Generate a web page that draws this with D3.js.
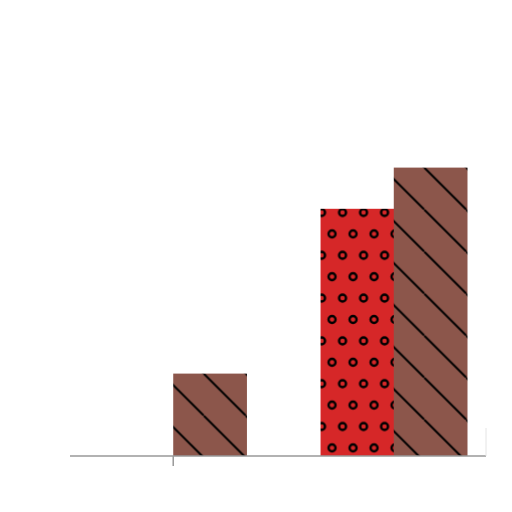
<!DOCTYPE html>
<html>
<head>
<meta charset="utf-8">
<script src="https://cdn.jsdelivr.net/npm/d3@7"></script>
<style>
  body { margin: 0; background: #fff; }
  svg { display: block; }
</style>
</head>
<body>
<svg id="chart" width="512" height="512"></svg>
<script>
// categories and series
var categories = ["A", "B"];
var seriesNames = ["dots", "hatch"];
var dotsValues = [0, 6];
var hatchValues = [2, 7];
var tickCats = ["A"];

var width = 512, height = 512;
var colors = { dots: "#d62728", hatch: "#8c564b" };

var svg = d3.select("#chart");
var defs = svg.append("defs");

// diagonal hatch, anchored at each bar's top-left corner
var hp = defs.append("pattern")
    .attr("id", "hatch")
    .attr("patternUnits", "userSpaceOnUse")
    .attr("width", 42).attr("height", 42)
    .attr("x", 30.5);
hp.append("rect").attr("width", 42).attr("height", 42).attr("fill", colors.hatch);
[[-42, 0], [0, 0], [42, 0]].forEach(function (o) {
    hp.append("line")
        .attr("x1", o[0]).attr("y1", 0)
        .attr("x2", o[0] + 42).attr("y2", 42)
        .attr("stroke", "#000").attr("stroke-width", 2);
});

// ring dots
var dp = defs.append("pattern")
    .attr("id", "dots")
    .attr("patternUnits", "userSpaceOnUse")
    .attr("width", 21).attr("height", 42.8)
    .attr("x", 1).attr("y", 3.7);
dp.append("rect").attr("width", 21).attr("height", 42.8).attr("fill", colors.dots);
[[0, 0], [21, 0], [10.5, 21.4], [0, 42.8], [21, 42.8]].forEach(function (c) {
    dp.append("circle")
        .attr("cx", c[0]).attr("cy", c[1]).attr("r", 3.5)
        .attr("fill", "none")
        .attr("stroke", "#000").attr("stroke-width", 2.4);
});

//scales
var x = d3.scaleBand()
    .domain(categories)
    .range([100, 467])
    .paddingInner(0.336)
    .paddingOuter(0);

var xSub = d3.scaleBand()
    .domain(seriesNames)
    .range([0, x.bandwidth()]);

var y = d3.scaleLinear()
    .domain([0, 10])
    .range([456, 44]);

var rows = [];
categories.forEach(function (c, i) {
    rows.push({ cat: c, s: "dots", v: dotsValues[i] });
    rows.push({ cat: c, s: "hatch", v: hatchValues[i] });
});

var bars = svg.append("g").selectAll("g.bar")
    .data(rows.filter(function (d) { return d.v > 0; }))
    .enter()
    .append("g")
    .classed("bar", true)
    .attr("transform", function (d) {
        return "translate(" + (x(d.cat) + xSub(d.s)) + "," + y(d.v) + ")";
    });

bars.append("rect")
    .attr("width", xSub.bandwidth() + 0.5)
    .attr("height", function (d) { return y(0) - y(d.v); })
    .attr("fill", function (d) { return "url(#" + d.s + ")"; });

// axis
var axisG = svg.append("g").attr("transform", "translate(0," + y(0) + ")");
axisG.call(d3.axisBottom(x)
        .tickValues(tickCats)
        .tickSize(10)
        .tickFormat(""))
    .call(function (g) { g.select(".domain").remove(); });
axisG.selectAll(".tick line").attr("stroke", "#999").attr("stroke-width", 1.5);
axisG.append("line")
    .attr("x1", 70).attr("x2", 486)
    .attr("stroke", "#999").attr("stroke-width", 1.5);
axisG.append("line")
    .attr("x1", 486).attr("x2", 486)
    .attr("y1", -28).attr("y2", 0)
    .attr("stroke", "#e4e4e4").attr("stroke-width", 1);
</script>
</body>
</html>
